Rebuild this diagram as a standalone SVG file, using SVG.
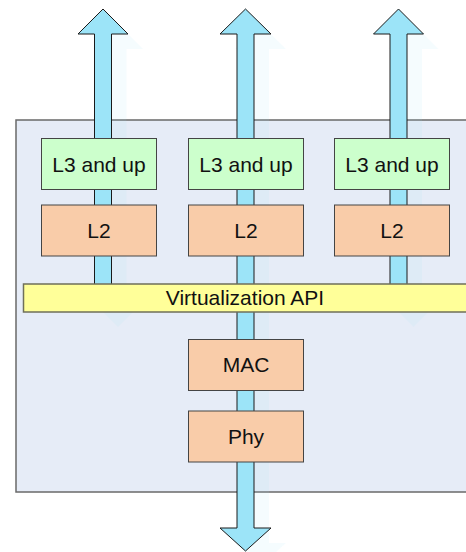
<svg xmlns="http://www.w3.org/2000/svg" width="466" height="552" viewBox="0 0 466 552">
<defs>
<style>
.frame{fill:#e6ecf7;stroke:#6a6a6a;stroke-width:1.5}
.arrow{fill:#9ce4f8;stroke:#1a1a1a;stroke-width:1}
.shadow{fill:#9ce4f8;opacity:0.1;stroke:none}
.l3{fill:#ccffcc;stroke:#444;stroke-width:1}
.l2{fill:#f9cca9;stroke:#444;stroke-width:1}
.api{fill:#ffff99;stroke:#6f6f5a;stroke-width:1.5}
.t{font-family:"Liberation Sans",Arial,sans-serif;font-size:21px;fill:#111;text-anchor:middle}
</style>
<path id="upArrow" d="M0,0 L25,25 L8.5,25 L8.5,278 L25,278 L0,303 L-25,278 L-8.5,278 L-8.5,25 L-25,25 Z"/>
<path id="bothArrow" d="M0,0 L25.5,25 L8.5,25 L8.5,519 L25.5,519 L0,542 L-25.5,519 L-8.5,519 L-8.5,25 L-25.5,25 Z"/>
</defs>
<rect id="host" class="frame" x="16" y="120" width="460" height="372"/>
<g id="shadows">
<use href="#upArrow" class="shadow" x="118" y="24"/>
<use href="#bothArrow" class="shadow" x="260.5" y="24"/>
<use href="#upArrow" class="shadow" x="413.5" y="24"/>
</g>
<g id="connectors">
<use href="#upArrow" class="arrow" x="103" y="9"/>
<use href="#bothArrow" class="arrow" x="245.5" y="9"/>
<use href="#upArrow" class="arrow" x="398.5" y="9"/>
</g>
<g id="l3a"><rect class="l3" x="41.5" y="138.5" width="115" height="51"/><text class="t" x="99" y="171.5">L3 and up</text></g>
<g id="l3b"><rect class="l3" x="188.5" y="138.5" width="115" height="51"/><text class="t" x="246" y="171.5">L3 and up</text></g>
<g id="l3c"><rect class="l3" x="334.5" y="138.5" width="115" height="51"/><text class="t" x="392" y="171.5">L3 and up</text></g>
<g id="l2a"><rect class="l2" x="41.5" y="205" width="115" height="51"/><text class="t" x="99" y="237.5">L2</text></g>
<g id="l2b"><rect class="l2" x="188.5" y="205" width="115" height="51"/><text class="t" x="246" y="237.5">L2</text></g>
<g id="l2c"><rect class="l2" x="334.5" y="205" width="115" height="51"/><text class="t" x="392" y="237.5">L2</text></g>
<g id="api"><rect class="api" x="23.5" y="284" width="460" height="28"/><text class="t" x="245" y="305">Virtualization API</text></g>
<g id="mac"><rect class="l2" x="188.5" y="339.5" width="115" height="51"/><text class="t" x="246" y="372">MAC</text></g>
<g id="phy"><rect class="l2" x="188.5" y="411" width="115" height="51"/><text class="t" x="246" y="443.5">Phy</text></g>
</svg>
